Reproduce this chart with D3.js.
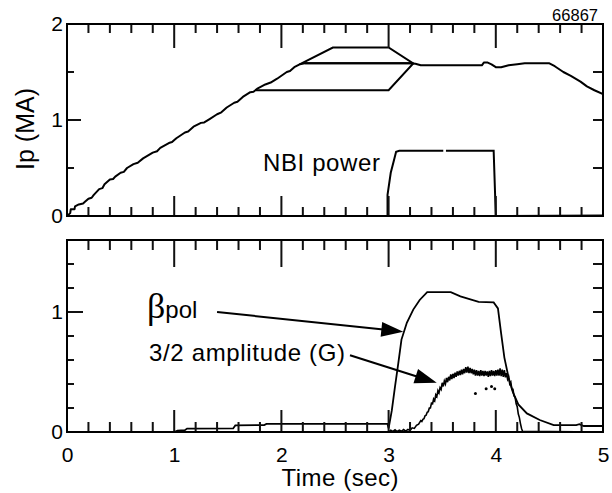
<!DOCTYPE html>
<html><head><meta charset="utf-8">
<script src="https://cdn.jsdelivr.net/npm/d3@7"></script>
<style>
html,body{margin:0;padding:0;background:#fff;}
svg{display:block;font-family:"Liberation Sans",Arial,sans-serif;}
</style></head>
<body>
<svg id="chart" width="612" height="493"></svg>
<script>
// ---------------- DATA ----------------
const shotNumber = "66867";
const xTickLabels = [0, 1, 2, 3, 4, 5];
const topYTickLabels = [0, 1, 2];
const botYTickLabels = [0, 1];

// Plasma current Ip (MA) vs time (s)
const ipTime = [0,0.03,0.035,0.07,0.075,0.11,0.15,0.17,0.2,0.23,0.25,0.3,0.33,0.35,0.4,0.43,0.45,0.5,0.53,0.56,0.62,0.66,0.71,0.8,0.84,0.87,0.95,0.98,1.02,1.1,1.13,1.18,1.25,1.28,1.33,1.4,1.44,1.49,1.56,1.59,1.64,1.71,1.74,1.78,1.85,1.9,1.96,2.05,2.08,2.12,2.17,2.22,3.2,3.25,3.3,3.87,3.89,3.92,3.96,4.0,4.05,4.12,4.2,4.27,4.5,4.55,4.63,4.7,4.79,4.85,4.92,5.0];
const ipValue = [0,0.03,0.07,0.07,0.1,0.12,0.13,0.15,0.18,0.19,0.22,0.28,0.29,0.33,0.38,0.385,0.41,0.45,0.46,0.5,0.54,0.555,0.6,0.66,0.675,0.71,0.76,0.77,0.81,0.87,0.88,0.93,0.97,0.975,1.01,1.06,1.08,1.13,1.18,1.19,1.24,1.29,1.295,1.33,1.37,1.39,1.43,1.5,1.51,1.55,1.58,1.59,1.59,1.585,1.57,1.57,1.6,1.6,1.58,1.55,1.55,1.57,1.58,1.59,1.59,1.56,1.5,1.46,1.4,1.35,1.31,1.27];

// NBI power (arb., same axis); null marks a gap in the trace
const nbiTime = [2.99,2.99,3.02,3.05,3.07,3.1,3.51,3.52,3.535,3.98,4.0,5.0];
const nbiValue = [0,0.22,0.45,0.58,0.67,0.68,0.68,null,0.68,0.68,0,0.005];

// Ip flat-top programming envelope (outline)
const envTime = [1.76,3.0,3.23,3.0,2.48,2.17];
const envValue = [1.31,1.31,1.59,1.755,1.755,1.58];
const envMidTime = [2.22,3.23];
const envMidValue = [1.59,1.59];

// beta_pol vs time
const betaTime = [0,1.0,1.03,1.1,1.12,1.55,1.57,1.84,1.86,2.99,3.0,3.03,3.06,3.09,3.12,3.17,3.23,3.29,3.36,3.58,3.67,3.84,3.98,4.02,4.05,4.08,4.12,4.16,4.21,4.29,4.41,4.54,4.75,4.78,4.82,5.0];
const betaValue = [0,0,0.012,0.015,0.028,0.03,0.055,0.058,0.067,0.067,0.03,0.18,0.38,0.57,0.77,0.91,1.02,1.1,1.165,1.165,1.13,1.085,1.08,1.03,0.82,0.62,0.45,0.33,0.23,0.155,0.1,0.058,0.058,0.065,0.05,0.05];

// 3/2 mode amplitude (G) vs time (noisy trace read point by point)
const ampTime = [3.0,3.02,3.04,3.06,3.08,3.1,3.12,3.14,3.16,3.18,3.2,3.22,3.24,3.26,3.28,
3.30,3.31,3.32,3.33,3.34,3.35,3.36,3.37,3.38,3.39,3.40,3.41,3.42,3.43,3.44,3.45,3.46,3.47,3.48,3.49,
3.50,3.51,3.52,3.53,3.54,3.55,3.56,3.57,3.58,3.59,3.60,3.61,3.62,3.63,3.64,3.65,3.66,3.67,3.68,3.69,
3.70,3.71,3.72,3.73,3.74,3.75,3.76,3.77,3.78,3.79,3.80,3.81,3.82,3.83,3.84,3.85,3.86,3.87,3.88,3.89,
3.90,3.91,3.92,3.93,3.94,3.95,3.96,3.97,3.98,3.99,4.00,4.01,4.02,4.03,4.04,4.05,4.06,4.07,4.08,4.09,
4.10,4.11,4.12,4.13,4.14,4.15,4.16,4.17,4.18,4.19,4.20,4.21,4.22,4.23,4.24,4.25,5.0];
const ampValue = [0,0.015,0.005,0.018,0.004,0.016,0.006,0.02,0.008,0.022,0.012,0.035,0.03,0.055,0.065,
0.095,0.088,0.105,0.11,0.135,0.14,0.165,0.17,0.2,0.2,0.24,0.235,0.275,0.26,0.31,0.295,0.345,0.325,0.37,0.355,
0.41,0.38,0.425,0.4,0.45,0.415,0.46,0.43,0.48,0.44,0.485,0.45,0.495,0.46,0.505,0.47,0.51,0.475,0.52,0.48,
0.525,0.49,0.54,0.495,0.545,0.49,0.535,0.49,0.525,0.48,0.52,0.47,0.515,0.47,0.51,0.465,0.515,0.47,0.51,0.465,
0.51,0.47,0.505,0.46,0.51,0.465,0.515,0.47,0.51,0.465,0.515,0.47,0.52,0.47,0.53,0.465,0.52,0.46,0.515,0.455,
0.49,0.44,0.46,0.4,0.415,0.355,0.355,0.3,0.29,0.235,0.21,0.15,0.12,0.07,0.03,0.005,0];
const ampDotTime = [3.81,3.91,3.96,3.99];
const ampDotValue = [0.32,0.36,0.38,0.36];

// Tick positions
const minorTimeTicks = [0.2,0.4,0.6,0.8,1.2,1.4,1.6,1.8,2.2,2.4,2.6,2.8,3.2,3.4,3.6,3.8,4.2,4.4,4.6,4.8];
const majorTimeTicks = [1,2,3,4];
const topMinorYTicks = [0.5,1.5];
const topRightYTicks = [0.5,1,1.5];
const botMinorYTicks = [0.2,0.4,0.6,0.8,1.2,1.4];
const botRightYTicks = [0.2,0.4,0.6,0.8,1,1.2,1.4];

// Annotation arrow anchors (data units of bottom panel)
const betaArrow = {from:[1.40,1.0], to:[3.137,0.836]};
const ampArrow = {from:[2.64,0.64], to:[3.449,0.41]};

// ---------------- DRAWING ----------------
const svg = d3.select("#chart");
const L = 67, R = 603;
const x = d3.scaleLinear().domain([0,5]).range([L,R]);
const yTop = d3.scaleLinear().domain([0,2]).range([216,24]);
const yBot = d3.scaleLinear().domain([0,1.6]).range([432,240]);

// Tick labels
function labels(g){ g.select(".domain").remove(); g.selectAll(".tick line").remove(); g.selectAll("text").attr("font-size",21).attr("fill","#000").attr("font-family","Liberation Sans, Arial, sans-serif"); }
svg.append("g").attr("transform","translate(0,432)")
  .call(d3.axisBottom(x).tickValues(xTickLabels).tickSize(0).tickPadding(15).tickFormat(d3.format("d")))
  .call(labels);
svg.append("g").attr("transform",`translate(${L},0)`)
  .call(d3.axisLeft(yTop).tickValues(topYTickLabels).tickSize(0).tickPadding(4).tickFormat(d3.format("d")))
  .call(labels);
svg.append("g").attr("transform",`translate(${L},0)`)
  .call(d3.axisLeft(yBot).tickValues(botYTickLabels).tickSize(0).tickPadding(4).tickFormat(d3.format("d")))
  .call(labels);

// Data lines
svg.append("clipPath").attr("id","ct").append("rect").attr("x",L).attr("y",24).attr("width",R-L).attr("height",192);
svg.append("clipPath").attr("id","cb").append("rect").attr("x",L).attr("y",240).attr("width",R-L).attr("height",192);

function zip(a,b){ return a.map((v,i)=>[v,b[i]]); }
const lineTop = d3.line().defined(d=>d[1]!=null).x(d=>x(d[0])).y(d=>yTop(d[1]));
const lineBot = d3.line().x(d=>x(d[0])).y(d=>yBot(d[1]));

const gt = svg.append("g").attr("clip-path","url(#ct)");
gt.append("path").attr("d",lineTop(zip(ipTime,ipValue))).attr("fill","none").attr("stroke","#000").attr("stroke-width",2).attr("stroke-linejoin","round");
gt.append("path").attr("d",lineTop(zip(nbiTime,nbiValue))).attr("fill","none").attr("stroke","#000").attr("stroke-width",2);
gt.append("path").attr("d",lineTop(zip(envTime,envValue))).attr("fill","none").attr("stroke","#000").attr("stroke-width",2);
gt.append("path").attr("d",lineTop(zip(envMidTime,envMidValue))).attr("fill","none").attr("stroke","#000").attr("stroke-width",2);

const gb = svg.append("g").attr("clip-path","url(#cb)");
gb.append("path").attr("d",lineBot(zip(betaTime,betaValue))).attr("fill","none").attr("stroke","#000").attr("stroke-width",1.8);
gb.append("path").attr("d",lineBot(zip(ampTime,ampValue))).attr("fill","none").attr("stroke","#000").attr("stroke-width",1.6);
gb.selectAll("circle.dot").data(zip(ampDotTime,ampDotValue)).enter().append("circle")
  .attr("cx",d=>x(d[0])).attr("cy",d=>yBot(d[1])).attr("r",1.5).attr("fill","#000");

// Arrows
function arrow(a){
  const x0=x(a.from[0]), y0=yBot(a.from[1]), x1=x(a.to[0]), y1=yBot(a.to[1]);
  const dx=x1-x0, dy=y1-y0, len=Math.hypot(dx,dy), ux=dx/len, uy=dy/len;
  const hl=22, hw=7.5;
  const bx=x1-ux*hl, by=y1-uy*hl;
  svg.append("path").attr("d",`M${x0},${y0}L${bx+ux*2},${by+uy*2}`).attr("stroke","#000").attr("stroke-width",2);
  svg.append("path").attr("d",`M${x1},${y1}L${bx-uy*hw},${by+ux*hw}L${bx+uy*hw},${by-ux*hw}Z`).attr("fill","#000");
}
arrow(betaArrow);
arrow(ampArrow);

// Texts
svg.append("text").attr("x",598).attr("y",20.5).attr("text-anchor","end").attr("font-size",16.5).text(shotNumber);
svg.append("text").attr("x",263).attr("y",170.5).attr("font-size",24).attr("textLength",117).text("NBI power");
const bt = svg.append("text").attr("x",147).attr("y",318);
bt.append("tspan").attr("font-size",36).attr("font-family","Liberation Serif, serif").text("β");
bt.append("tspan").attr("font-size",24).text("pol");
svg.append("text").attr("x",149).attr("y",361).attr("font-size",24).attr("textLength",196).text("3/2 amplitude (G)");
svg.append("text").attr("x",340).attr("y",486).attr("text-anchor","middle").attr("font-size",24).attr("textLength",117).text("Time (sec)");
svg.append("text").attr("transform","translate(34,129) rotate(-90)").attr("text-anchor","middle").attr("font-size",25).text("Ip (MA)");

// ---------------- TICK MARKS (filled 2px bars) AND FRAMES ----------------
const tickLayer = svg.append("g").attr("fill","#111");
function vTicks(yPos, values, len, dir){
  tickLayer.append("g").selectAll("rect").data(values).join("rect")
    .attr("x",d=>x(d)-1).attr("width",2)
    .attr("y",dir>0?yPos:yPos-len).attr("height",len);
}
function hTicks(xPos, scale, values, len, dir){
  tickLayer.append("g").selectAll("rect").data(values).join("rect")
    .attr("y",d=>scale(d)-1).attr("height",2)
    .attr("x",dir>0?xPos:xPos-len).attr("width",len);
}
vTicks(216, minorTimeTicks, 9, -1); vTicks(216, majorTimeTicks, 20, -1);
vTicks(24, minorTimeTicks, 9, 1);   vTicks(24, majorTimeTicks, 24, 1);
hTicks(L, yTop, topMinorYTicks, 7, 1); hTicks(L, yTop, [1], 14, 1);
hTicks(R, yTop, topRightYTicks, 10, -1);
vTicks(432, minorTimeTicks, 10, -1); vTicks(432, majorTimeTicks, 22, -1);
vTicks(240, minorTimeTicks, 10, 1);  vTicks(240, majorTimeTicks, 27, 1);
hTicks(L, yBot, botMinorYTicks, 7, 1); hTicks(L, yBot, [1], 16, 1);
hTicks(R, yBot, botRightYTicks, 10, -1);
[[24,216],[240,432]].forEach(([t,b])=>{
  svg.append("rect").attr("x",L).attr("y",t).attr("width",R-L).attr("height",b-t)
    .attr("fill","none").attr("stroke","#000").attr("stroke-width",2);
});
</script>
</body></html>
